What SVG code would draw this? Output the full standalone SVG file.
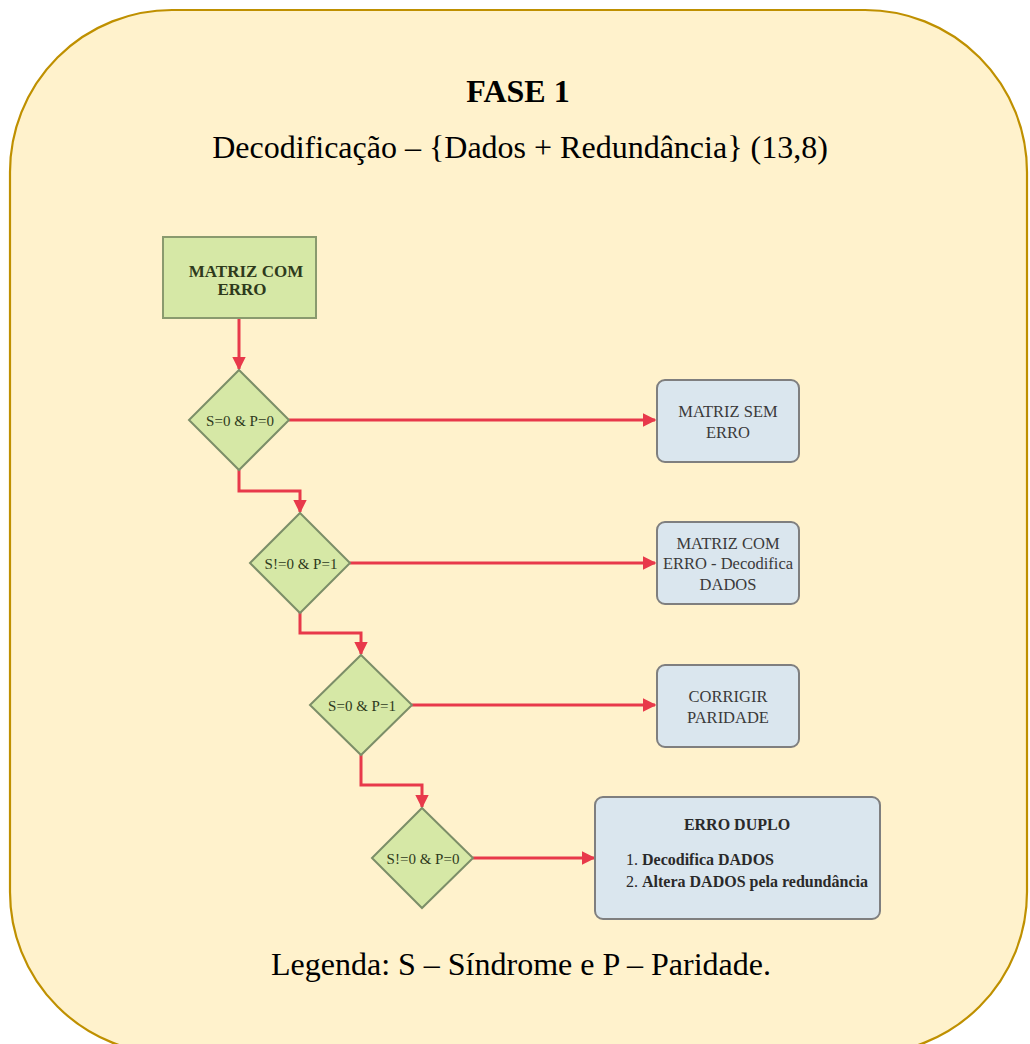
<svg xmlns="http://www.w3.org/2000/svg" width="1030" height="1044" viewBox="0 0 1030 1044">
  <style>
    .title { font-family: "Liberation Serif", "Times New Roman", serif; fill: #000; text-anchor: middle; }
    .start { fill: #d6e8a6; stroke: #8a9a6e; stroke-width: 2; }
    .start-t { font-family: "Liberation Serif", serif; font-weight: bold; font-size: 17px; fill: #2e3a1c; text-anchor: middle; }
    .dec { fill: #d6e8a6; stroke: #7c8e68; stroke-width: 2; }
    .dec-t { font-family: "Liberation Serif", serif; font-size: 15px; fill: #2e3a1c; text-anchor: middle; }
    .out { fill: #dae6ee; stroke: #7f7f7f; stroke-width: 2; }
    .out-t { font-family: "Liberation Serif", serif; font-size: 16.5px; fill: #3a3a3a; text-anchor: middle; }
    .out-b { font-family: "Liberation Serif", serif; font-size: 16px; fill: #2a2a2a; }
    .edge { fill: none; stroke: #e8394a; stroke-width: 3; }
  </style>
  <defs>
    <marker id="arrow" viewBox="0 0 10 10" refX="9" refY="5" markerWidth="4.5" markerHeight="4.5" orient="auto" markerUnits="strokeWidth">
      <path d="M0,0 L10,5 L0,10 Z" fill="#e8394a"/>
    </marker>
  </defs>

  <!-- background panel -->
  <rect x="10" y="10" width="1017" height="1044" rx="162" ry="162" fill="#fff2cc" stroke="#bf9000" stroke-width="2.2"/>

  <!-- headings -->
  <text class="title" x="518" y="102" font-size="32" font-weight="bold">FASE 1</text>
  <text class="title" x="520" y="158" font-size="32">Decodificação – {Dados + Redundância} (13,8)</text>
  <text class="title" x="521" y="975" font-size="32">Legenda: S – Síndrome e P – Paridade.</text>

  <!-- connectors -->
  <g id="connectors">
    <path class="edge" marker-end="url(#arrow)" d="M239,318 V369"/>
    <path class="edge" marker-end="url(#arrow)" d="M239,470 V491 H300 V512"/>
    <path class="edge" marker-end="url(#arrow)" d="M300,612 V633 H361 V654"/>
    <path class="edge" marker-end="url(#arrow)" d="M361,755 V785 H422 V807"/>
    <path class="edge" marker-end="url(#arrow)" d="M289,420 H655"/>
    <path class="edge" marker-end="url(#arrow)" d="M350,563 H655"/>
    <path class="edge" marker-end="url(#arrow)" d="M412,705 H655"/>
    <path class="edge" marker-end="url(#arrow)" d="M473,858 H594"/>
  </g>

  <!-- start node -->
  <g id="start">
    <rect class="start" x="163" y="237" width="153" height="81"/>
    <text class="start-t" x="246" y="277">MATRIZ COM</text>
    <text class="start-t" x="242" y="295">ERRO</text>
  </g>

  <!-- decisions -->
  <g id="dec1">
    <polygon class="dec" points="239,370 289,420 239,470 189,420"/>
    <text class="dec-t" x="240" y="426">S=0 &amp; P=0</text>
  </g>
  <g id="dec2">
    <polygon class="dec" points="300,513 350,563 300,613 250,563"/>
    <text class="dec-t" x="301" y="569">S!=0 &amp; P=1</text>
  </g>
  <g id="dec3">
    <polygon class="dec" points="361,655 412,705 361,755 310,705"/>
    <text class="dec-t" x="362" y="711">S=0 &amp; P=1</text>
  </g>
  <g id="dec4">
    <polygon class="dec" points="422,808 473,858 422,908 372,858"/>
    <text class="dec-t" x="423" y="864">S!=0 &amp; P=0</text>
  </g>

  <!-- outcomes -->
  <g id="out1">
    <rect class="out" x="657" y="380" width="142" height="82" rx="8"/>
    <text class="out-t" x="728" y="417">MATRIZ SEM</text>
    <text class="out-t" x="728" y="438">ERRO</text>
  </g>
  <g id="out2">
    <rect class="out" x="657" y="522" width="142" height="82" rx="8"/>
    <text class="out-t" x="728" y="549">MATRIZ COM</text>
    <text class="out-t" x="728" y="569">ERRO - Decodifica</text>
    <text class="out-t" x="728" y="590">DADOS</text>
  </g>
  <g id="out3">
    <rect class="out" x="657" y="665" width="142" height="82" rx="8"/>
    <text class="out-t" x="728" y="702">CORRIGIR</text>
    <text class="out-t" x="728" y="723">PARIDADE</text>
  </g>
  <g id="out4">
    <rect class="out" x="595" y="797" width="285" height="122" rx="8"/>
    <text class="out-b" x="737" y="830" text-anchor="middle" font-weight="bold">ERRO DUPLO</text>
    <text class="out-b" x="626" y="865">1. <tspan font-weight="bold">Decodifica DADOS</tspan></text>
    <text class="out-b" x="626" y="887">2. <tspan font-weight="bold">Altera DADOS pela redundância</tspan></text>
  </g>
</svg>
